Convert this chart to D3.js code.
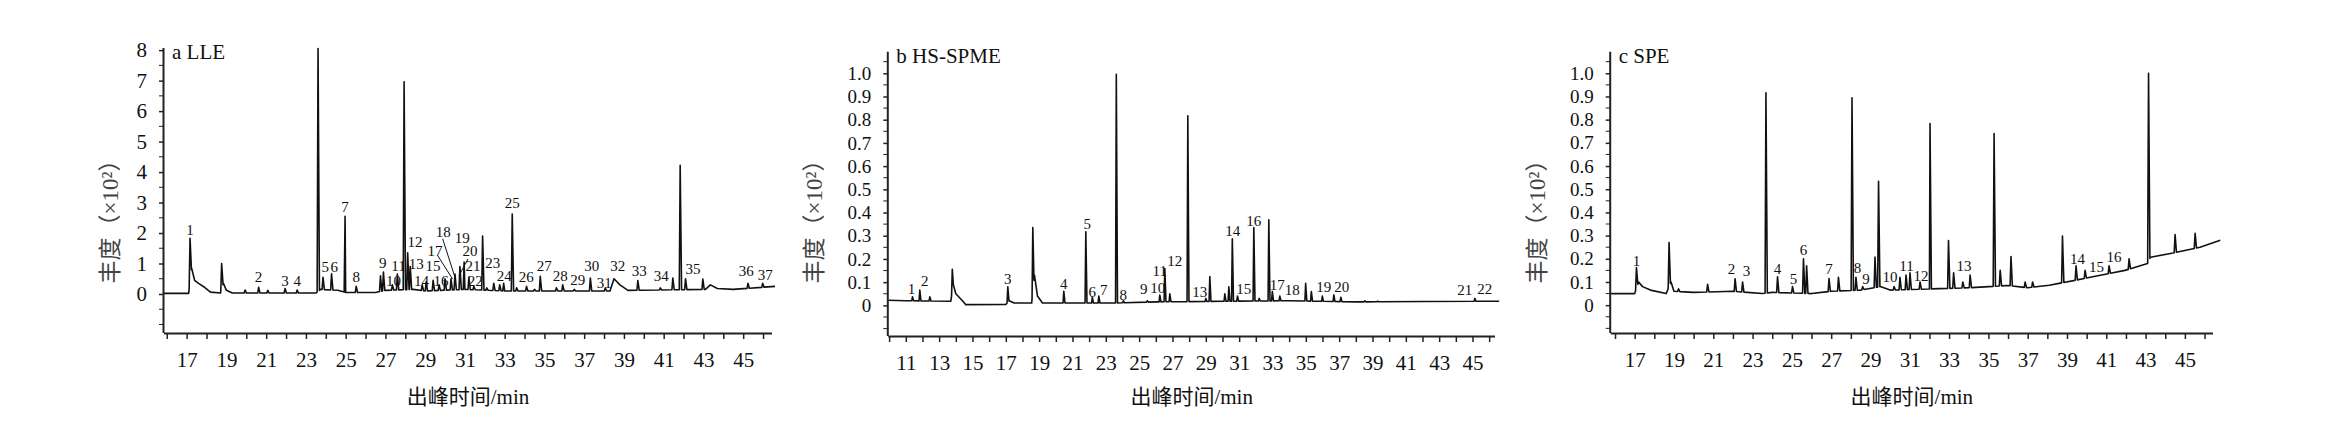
<!DOCTYPE html>
<html>
<head>
<meta charset="utf-8">
<script src="https://cdn.jsdelivr.net/npm/d3@7"></script>
<style>
  body { margin: 0; background: #fff; }
  svg { display: block; }
  text { font-family: "Liberation Serif", "Noto Sans CJK SC", serif; fill: #111; }
</style>
</head>
<body>
<svg id="mainFrame"></svg>
<script>
// ---- data ---------------------------------------------------------------------

// a LLE : retention time (min), peak top (x10^2)
const llePeaks = [
  [17.17, 1.83], [18.76, 1.0], [19.94, 0.13], [20.62, 0.22], [21.08, 0.12], [21.95, 0.18],
  [22.56, 0.13], [23.61, 8.05], [23.86, 0.55], [24.29, 0.66], [24.97, 2.55], [25.53, 0.25],
  [26.75, 0.6], [26.9, 0.72], [27.35, 0.3], [27.6, 0.65], [27.94, 6.96], [28.12, 1.35],
  [28.25, 0.9], [28.85, 0.3], [29.05, 0.4], [29.4, 0.45], [29.7, 0.3], [30.0, 0.5],
  [30.3, 0.5], [30.5, 0.65], [30.75, 0.9], [30.96, 1.05], [31.2, 0.55], [31.45, 0.25],
  [31.89, 1.9], [32.1, 0.2], [32.45, 0.35], [32.75, 0.3], [32.95, 0.35], [33.38, 2.62],
  [33.6, 0.2], [34.1, 0.25], [34.5, 0.15], [34.79, 0.58], [35.6, 0.2], [35.92, 0.3],
  [36.5, 0.15], [37.31, 0.52], [38.06, 0.2], [39.7, 0.44], [40.83, 0.2], [41.46, 0.52],
  [41.83, 4.22], [42.1, 0.5], [42.97, 0.49], [45.24, 0.35], [45.98, 0.35]
];
const lleBase = [
  [15.86, 0.02], [17.1, 0.02], [17.25, 0.85], [17.4, 0.45], [17.6, 0.35], [17.9, 0.22],
  [18.2, 0.06], [18.7, 0.03], [18.85, 0.35], [19.0, 0.12], [19.3, 0.03], [23.5, 0.03],
  [23.75, 0.15], [24.6, 0.12], [25.0, 0.05], [26.5, 0.05], [27.0, 0.12], [28.4, 0.15],
  [29.0, 0.1], [31.0, 0.15], [33.0, 0.1], [38.3, 0.1], [38.5, 0.5], [38.8, 0.3],
  [39.2, 0.12], [43.1, 0.15], [43.35, 0.3], [43.7, 0.18], [44.5, 0.15], [46.6, 0.25]
];
const lleLabels = [
  ['1', 17.17, 2.12], ['2', 20.62, 0.55], ['3', 21.95, 0.44], ['4', 22.56, 0.44],
  ['5', 23.97, 0.88], ['6', 24.42, 0.88], ['7', 24.97, 2.85], ['8', 25.53, 0.55],
  ['9', 26.86, 1.04], ['10', 27.41, 0.45], ['11', 27.66, 0.93], ['12', 28.49, 1.7],
  ['13', 28.55, 1.0], ['14', 28.82, 0.45], ['15', 29.4, 0.93], ['16', 29.8, 0.45],
  ['17', 29.5, 1.42], ['18', 29.91, 2.03], ['19', 30.86, 1.85], ['20', 31.26, 1.43],
  ['21', 31.41, 0.93], ['22', 31.52, 0.45], ['23', 32.4, 1.04], ['24', 32.98, 0.6],
  ['25', 33.38, 2.99], ['26', 34.08, 0.55], ['27', 34.99, 0.93], ['28', 35.8, 0.6],
  ['29', 36.68, 0.47], ['30', 37.38, 0.91], ['31', 38.01, 0.38], ['32', 38.69, 0.91],
  ['33', 39.77, 0.77], ['34', 40.88, 0.6], ['35', 42.47, 0.84], ['36', 45.16, 0.77],
  ['37', 46.11, 0.63]
];
// leader lines: from label to peak
const lleArrows = [
  [29.63, 1.26, 30.38, 0.49], [29.88, 1.81, 30.5, 0.55], [31.15, 1.15, 30.7, 0.6]
];

// b HS-SPME
const spmePeaks = [
  [11.4, 0.037], [11.84, 0.066], [12.44, 0.037], [13.79, 0.155], [17.12, 0.08], [18.62, 0.335],
  [20.48, 0.061], [21.8, 0.317], [22.19, 0.035], [22.58, 0.04], [23.63, 0.996], [24.05, 0.02],
  [25.49, 0.02], [26.24, 0.044], [26.54, 0.159], [26.84, 0.05], [27.92, 0.817], [29.0, 0.03],
  [29.24, 0.124], [30.14, 0.05], [30.38, 0.08], [30.59, 0.287], [30.9, 0.04], [31.88, 0.335],
  [32.2, 0.03], [32.78, 0.369], [32.99, 0.06], [33.44, 0.04], [34.99, 0.095], [35.33, 0.06],
  [35.99, 0.04], [36.68, 0.045], [37.1, 0.035], [38.54, 0.02], [39.3, 0.018], [45.14, 0.03]
];
const spmeBase = [
  [9.95, 0.022], [11.0, 0.02], [13.7, 0.018], [13.85, 0.09], [14.0, 0.05], [14.4, 0.02],
  [14.6, 0.003], [17.0, 0.004], [17.2, 0.02], [17.5, 0.01], [18.55, 0.01], [18.72, 0.13],
  [18.9, 0.04], [19.2, 0.01], [23.5, 0.01], [26.0, 0.015], [34.0, 0.02], [38.0, 0.015],
  [46.6, 0.018]
];
const spmeLabels = [
  ['1', 11.34, 0.073], ['2', 12.14, 0.106], ['3', 17.12, 0.116], ['4', 20.48, 0.095],
  ['5', 21.89, 0.352], ['6', 22.19, 0.059], ['7', 22.88, 0.066], ['8', 24.05, 0.044],
  ['9', 25.28, 0.073], ['10', 26.12, 0.077], ['11', 26.24, 0.149], ['12', 27.14, 0.194],
  ['13', 28.64, 0.059], ['14', 30.62, 0.323], ['15', 31.28, 0.073], ['16', 31.88, 0.366],
  ['17', 33.29, 0.087], ['18', 34.19, 0.066], ['19', 36.07, 0.08], ['20', 37.16, 0.08],
  ['21', 44.54, 0.069], ['22', 45.74, 0.073]
];

// c SPE
const spePeaks = [
  [17.09, 0.162], [18.75, 0.27], [19.23, 0.07], [20.71, 0.09], [22.11, 0.114], [22.49, 0.1],
  [23.68, 0.916], [24.27, 0.122], [25.03, 0.08], [25.59, 0.2], [25.75, 0.17], [26.89, 0.115],
  [27.37, 0.12], [28.06, 0.894], [28.26, 0.12], [28.6, 0.08], [29.23, 0.207], [29.41, 0.534],
  [30.2, 0.08], [30.5, 0.12], [30.81, 0.13], [31.01, 0.14], [31.52, 0.1], [32.03, 0.783],
  [32.97, 0.279], [33.23, 0.14], [33.7, 0.1], [34.07, 0.13], [35.29, 0.74], [35.6, 0.15],
  [36.15, 0.21], [36.87, 0.1], [37.25, 0.1], [38.77, 0.298], [39.46, 0.17], [39.92, 0.15],
  [41.14, 0.17], [42.16, 0.2], [43.15, 1.0], [44.5, 0.305], [45.52, 0.31]
];
const speBase = [
  [15.78, 0.05], [17.0, 0.05], [17.2, 0.1], [17.4, 0.08], [17.8, 0.065], [18.6, 0.05],
  [18.85, 0.1], [19.0, 0.06], [20.0, 0.055], [22.0, 0.06], [23.5, 0.05], [24.0, 0.055],
  [26.0, 0.05], [27.0, 0.06], [28.5, 0.065], [29.5, 0.08], [30.0, 0.065], [32.0, 0.07],
  [34.0, 0.075], [36.0, 0.085], [37.0, 0.075], [38.1, 0.086], [39.4, 0.107], [40.7, 0.129],
  [41.95, 0.15], [43.1, 0.18], [43.25, 0.207], [44.4, 0.225], [45.77, 0.25], [46.8, 0.28]
];
const speLabels = [
  ['1', 17.09, 0.193], ['2', 21.93, 0.157], ['3', 22.69, 0.15], ['4', 24.27, 0.157],
  ['5', 25.08, 0.114], ['6', 25.59, 0.239], ['7', 26.89, 0.157], ['8', 28.34, 0.162],
  ['9', 28.77, 0.114], ['10', 29.99, 0.122], ['11', 30.83, 0.172], ['12', 31.57, 0.129],
  ['13', 33.76, 0.172], ['14', 39.54, 0.2], ['15', 40.5, 0.167], ['16', 41.39, 0.21]
];

// axis ticks
const lleYTicks = [0, 1, 2, 3, 4, 5, 6, 7, 8];
const lleYMinor = [-1, -0.5, 0.5, 1.5, 2.5, 3.5, 4.5, 5.5, 6.5, 7.5];
const smallYTicks = [0, 0.1, 0.2, 0.3, 0.4, 0.5, 0.6, 0.7, 0.8, 0.9, 1.0];
const smallYMinor = [-0.1, -0.05, 0.05, 0.15, 0.25, 0.35, 0.45, 0.55, 0.65, 0.75, 0.85, 0.95, 1.05];
const xLabels1646 = [17, 19, 21, 23, 25, 27, 29, 31, 33, 35, 37, 39, 41, 43, 45];
const xLabels1046 = [11, 13, 15, 17, 19, 21, 23, 25, 27, 29, 31, 33, 35, 37, 39, 41, 43, 45];

const yTitle = '丰度（×10²）';
const xTitle = '出峰时间/min';

// ---- layout --------------------------------------------------------------------
const svg = d3.select('#mainFrame')
    .attr('width', 2332)
    .attr('height', 423);

const panels = [
  { title: 'a LLE', peaks: llePeaks, base: lleBase, labels: lleLabels, arrows: lleArrows,
    xRange: [164, 772], xDomain: [15.86, 46.45], yRange: [333, 48], yDomain: [-1.28, 8.07],
    yTicks: lleYTicks, yMinor: lleYMinor, yFmt: d => d, xTicks: d3.range(16, 47), xLabels: xLabels1646,
    yTitleX: 110 },
  { title: 'b HS-SPME', peaks: spmePeaks, base: spmeBase, labels: spmeLabels, arrows: [],
    xRange: [888.3, 1495], xDomain: [9.95, 46.35], yRange: [336, 51.7], yDomain: [-0.132, 1.093],
    yTicks: smallYTicks, yMinor: smallYMinor, yFmt: d => d === 0 ? '0' : d3.format('.1f')(d),
    xTicks: d3.range(10, 47), xLabels: xLabels1046, yTitleX: 814 },
  { title: 'c SPE', peaks: spePeaks, base: speBase, labels: speLabels, arrows: [],
    xRange: [1610.7, 2213], xDomain: [15.78, 46.43], yRange: [333, 51.7], yDomain: [-0.12, 1.093],
    yTicks: smallYTicks, yMinor: smallYMinor, yFmt: d => d === 0 ? '0' : d3.format('.1f')(d),
    xTicks: d3.range(16, 47), xLabels: xLabels1646, yTitleX: 1537 }
];

const peakLeft = 0.045, peakRight = 0.07;   // spike half widths in minutes

panels.forEach(p => {
  const x = d3.scaleLinear().domain(p.xDomain).range(p.xRange);
  const y = d3.scaleLinear().domain(p.yDomain).range(p.yRange);
  const g = svg.append('g');

  // baseline value at time t, from the baseline points
  const bis = d3.bisector(d => d[0]).left;
  const baseAt = t => {
    const i = Math.max(1, Math.min(p.base.length - 1, bis(p.base, t)));
    const a = p.base[i - 1], b = p.base[i];
    return a[1] + (b[1] - a[1]) * (t - a[0]) / (b[0] - a[0]);
  };

  // trace: baseline points plus a spike per peak
  const pts = p.base.slice();
  p.peaks.forEach(([t, h]) => {
    pts.push([t - peakLeft, baseAt(t - peakLeft)]);
    pts.push([t, h]);
    pts.push([t + peakRight, baseAt(t + peakRight)]);
  });
  pts.sort((a, b) => a[0] - b[0]);

  g.append('path')
      .datum(pts)
      .attr('fill', 'none')
      .attr('stroke', '#111')
      .attr('stroke-width', 1.6)
      .attr('stroke-linejoin', 'round')
      .attr('d', d3.line().x(d => x(d[0])).y(d => y(d[1])));

  // y axis
  const yAxis = g.append('g')
      .attr('transform', `translate(${p.xRange[0]},0)`)
      .call(d3.axisLeft(y).tickValues(p.yTicks).tickFormat(p.yFmt).tickSize(5).tickPadding(12));
  yAxis.append('g').selectAll('line').data(p.yMinor).join('line')
      .attr('x1', -5).attr('x2', 0)
      .attr('y1', d => y(d)).attr('y2', d => y(d))
      .attr('stroke', '#222');
  yAxis.select('.domain').attr('d', `M-0.5,${p.yRange[1]}V${p.yRange[0]}`);

  // x axis
  const xAxis = g.append('g')
      .attr('transform', `translate(0,${p.yRange[0]})`)
      .call(d3.axisBottom(x).tickValues(p.xTicks).tickSize(6).tickPadding(13)
          .tickFormat(d => p.xLabels.includes(d) ? d : ''));
  xAxis.select('.domain').attr('d', `M${p.xRange[0]},0.5H${p.xRange[1]}`);

  [yAxis, xAxis].forEach(ax => {
    ax.select('.domain').attr('stroke', '#222').attr('stroke-width', 2);
    ax.selectAll('.tick line').attr('stroke', '#222').attr('stroke-width', 1.5);
    ax.selectAll('text').attr('font-family', '"Liberation Serif", serif').attr('fill', '#222');
  });
  yAxis.selectAll('text').attr('font-size', p.yTicks.length > 9 ? 19 : 21);
  xAxis.selectAll('text').attr('font-size', 21);

  // peak numbers
  g.append('g').selectAll('text').data(p.labels).join('text')
      .attr('x', d => x(d[1]))
      .attr('y', d => y(d[2]))
      .attr('dy', '0.35em')
      .attr('text-anchor', 'middle')
      .attr('font-size', 15)
      .text(d => d[0]);

  g.append('g').selectAll('line').data(p.arrows).join('line')
      .attr('x1', d => x(d[0])).attr('y1', d => y(d[1]))
      .attr('x2', d => x(d[2])).attr('y2', d => y(d[3]))
      .attr('stroke', '#111').attr('stroke-width', 1);

  // panel title
  g.append('text')
      .attr('x', p.xRange[0] + 8)
      .attr('y', p.yRange[1] + 11)
      .attr('font-size', 21)
      .text(p.title);

  // axis titles
  g.append('text')
      .attr('transform', `translate(${p.yTitleX},${216}) rotate(-90)`)
      .attr('text-anchor', 'middle')
      .attr('dy', '0.35em')
      .attr('font-size', 23)
      .style('fill', '#444')
      .text(yTitle);

  g.append('text')
      .attr('x', (p.xRange[0] + p.xRange[1]) / 2)
      .attr('y', 404)
      .attr('text-anchor', 'middle')
      .attr('font-size', 21)
      .text(xTitle);
});
</script>
</body>
</html>
